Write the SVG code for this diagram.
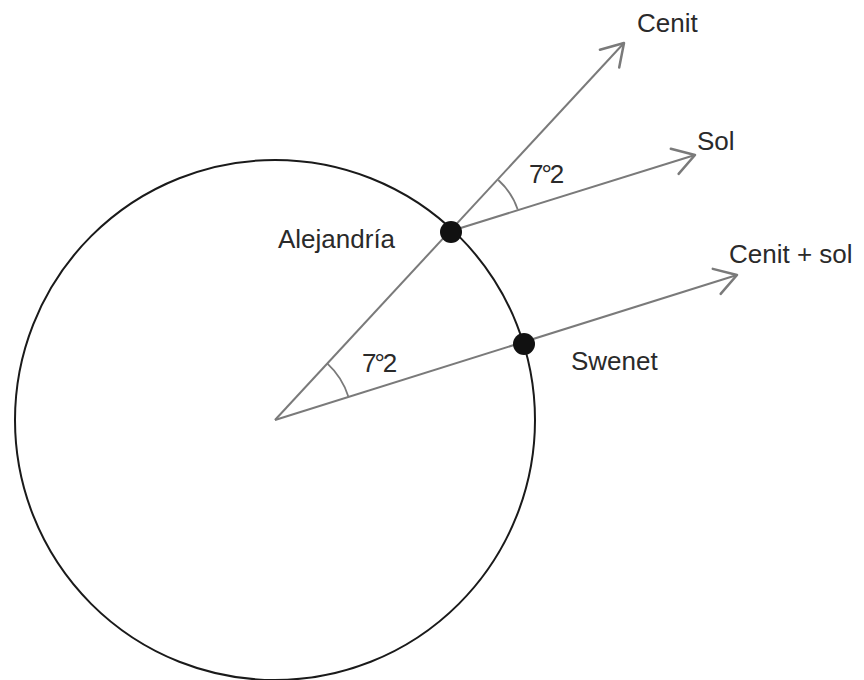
<svg xmlns="http://www.w3.org/2000/svg" width="864" height="680" viewBox="0 0 864 680">
<style>
.ln{stroke:#7a7a7a;stroke-width:2;fill:none}
.arc{stroke:#7a7a7a;stroke-width:1.8;fill:none}
.lbl{font-family:"Liberation Sans",Arial,sans-serif;font-size:26px;fill:#2a2a2a}
</style>
<defs>
<marker id="arr" markerUnits="userSpaceOnUse" markerWidth="30" markerHeight="30" viewBox="-22 -12 24 24" refX="0" refY="0" orient="auto">
<path d="M-17,-10.5 L0,0 L-17,10.5" stroke="#7a7a7a" stroke-width="2" fill="none" stroke-linecap="round" stroke-linejoin="round"/>
</marker>
</defs>
<rect width="864" height="680" fill="#fff"/>
<g id="earth">
<circle cx="275" cy="420" r="260" fill="none" stroke="#1a1a1a" stroke-width="2"/>
</g>
<g id="connectors">
<line class="ln" x1="275" y1="420" x2="624" y2="43" marker-end="url(#arr)"/>
<line class="ln" x1="451" y1="231" x2="695" y2="155" marker-end="url(#arr)"/>
<line class="ln" x1="275" y1="420" x2="737" y2="275" marker-end="url(#arr)"/>
<path class="arc" d="M327.2,363.4 A77,77 0 0 1 348.5,397"/>
<path class="arc" d="M498.3,180 A70,70 0 0 1 517.7,209.5"/>
</g>
<g id="alejandria">
<circle cx="451" cy="232" r="11" fill="#111"/>
<text class="lbl" x="278" y="248">Alejandría</text>
</g>
<g id="swenet">
<circle cx="524" cy="344" r="11" fill="#111"/>
<text class="lbl" x="571" y="370">Swenet</text>
</g>
<g id="cenit">
<text class="lbl" x="637" y="32">Cenit</text>
</g>
<g id="sol">
<text class="lbl" x="697" y="150">Sol</text>
</g>
<g id="cenit-sol">
<text class="lbl" x="729" y="263">Cenit + sol</text>
</g>
<g id="angle-top">
<text class="lbl" x="529" y="183" letter-spacing="-2">7°2</text>
</g>
<g id="angle-center">
<text class="lbl" x="362" y="372" letter-spacing="-2">7°2</text>
</g>
</svg>
